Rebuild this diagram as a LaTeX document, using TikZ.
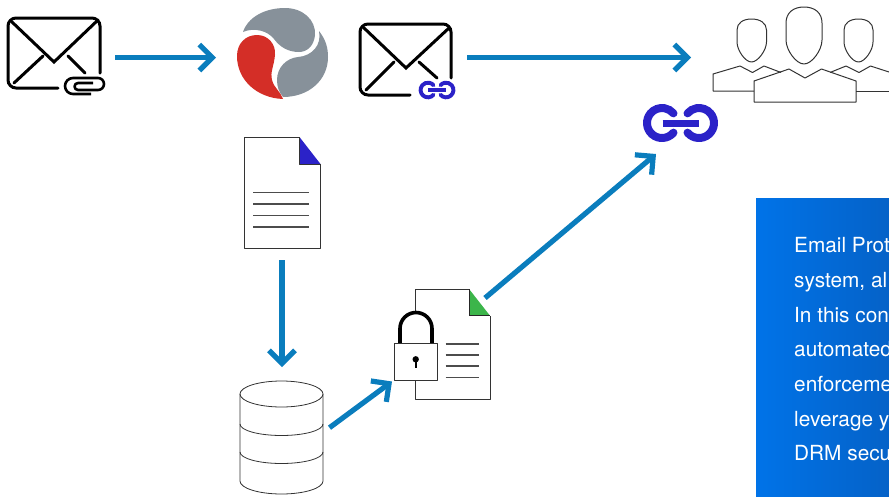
\documentclass[tikz,border=0pt]{standalone}
\usepackage{fontspec}
\setmainfont{TeX Gyre Heros}
\usetikzlibrary{arrows.meta}
\definecolor{flowblue}{HTML}{0A7DBD}
\definecolor{linkblue}{HTML}{2B22C8}
\definecolor{logogray}{HTML}{87919A}
\definecolor{logored}{HTML}{D42E27}
\definecolor{docgreen}{HTML}{3CB54A}
\definecolor{panelleft}{RGB}{0,115,232}
\definecolor{panelright}{RGB}{5,98,200}
\tikzset{
  flow/.style={draw=flowblue,line width=5.2pt,-{Straight Barb[length=13pt,width=26pt,line width=5.2pt]}},
  mailline/.style={draw=black,line width=3pt,line cap=round},
  clipline/.style={draw=black,line width=2.6pt,line join=round},
  thinline/.style={draw=black!80,line width=1pt,line join=round},
  rowline/.style={draw=black!70,line width=1.2pt},
  dbline/.style={draw=black!80,line width=0.8pt},
  boxtext/.style={text=white,font=\fontsize{20.8pt}{22pt}\selectfont,anchor=base west,inner sep=0pt},
}
\newcommand{\linkglyph}[3]{%
  \begin{scope}[shift={(#1,#2)},scale=#3]
    \draw[linkblue,line width={8pt*#3},line cap=round] (-18.5,0)++(40:15) arc[start angle=40,end angle=320,radius=15];
    \draw[linkblue,line width={8pt*#3},line cap=round] (18.5,0)++(140:15) arc[start angle=140,end angle=-140,radius=15];
    \draw[linkblue,line width={7pt*#3}] (-18,0) -- (18,0);
  \end{scope}}
\begin{document}
\begin{tikzpicture}[x=1pt,y=-1pt]
\useasboundingbox (0,0) rectangle (889,496);
\clip (0,0) rectangle (889,496);
% anchors of the connectors
\coordinate (mailAout) at (115,57.5);
\coordinate (logoIn) at (216,57.5);
\coordinate (mailBout) at (467,57.5);
\coordinate (peopleIn) at (691,57.5);
\coordinate (docOut) at (282,260);
\coordinate (dbIn) at (282,367);
\coordinate (dbOut) at (329.5,427.7);
\coordinate (lockIn) at (392,381.5);
\coordinate (lockedOut) at (485,298);
\coordinate (linkIn) at (656,154);
% mail with paperclip
\draw[mailline,rounded corners=8pt] (100,73) -- (100,18) -- (8,18) -- (8,88) -- (58,88);
\draw[mailline] (12,22) -- (54,62) -- (98,20);
\draw[mailline] (14,83) -- (43,56);
\draw[mailline] (68,56) -- (85,73);
\draw[clipline] (91,94) -- (73,94) arc[start angle=90,end angle=270,radius=8] -- (98,78) arc[start angle=-90,end angle=90,radius=6] -- (78,90) arc[start angle=90,end angle=270,radius=3.5] -- (93,83);
% logo
\fill[logogray] (243,32) .. controls (248,17) and (265,8) .. (285,8) .. controls (303,8) and (316,20) .. (315,35) .. controls (314,46) and (307,52) .. (299,52) .. controls (288,52) and (280,47) .. (274,39) .. controls (268,31) and (254,27) .. (243,32) -- cycle;
\fill[logored] (283,99) .. controls (257,98) and (237,80) .. (237,56) .. controls (237,43) and (246,35) .. (257,35) .. controls (268,35) and (276,44) .. (275,55) .. controls (274,66) and (270,72) .. (272,80) .. controls (274,88) and (281,92) .. (283,99) -- cycle;
\fill[logogray] (319,31) .. controls (326,40) and (328,48) .. (328,57) .. controls (328,80) and (309,97) .. (283,97) .. controls (279,92) and (277,87) .. (277,80) .. controls (277,67) and (287,58) .. (298,57) .. controls (312,56) and (322,45) .. (319,31) -- cycle;
% mail with link
\draw[mailline,rounded corners=8pt] (451,78) -- (451,24) -- (360,24) -- (360,95) -- (410,95);
\draw[mailline] (364,28) -- (406,68) -- (449,28);
\draw[mailline] (366,90) -- (394,62);
\draw[mailline] (419,62) -- (437,78);
\linkglyph{437}{90}{0.49}
\linkglyph{680.5}{123}{1}
% people
\draw[thinline] (751.5,19) .. controls (743,19) and (737,23) .. (737,30) -- (737,42) .. controls (737,50) and (745,62) .. (751.5,62) .. controls (758,62) and (766.5,50) .. (766.5,42) -- (766.5,30) .. controls (766.5,23) and (760,19) .. (751.5,19) -- cycle;
\draw[thinline] (858.5,19) .. controls (850,19) and (844,23) .. (844,30) -- (844,42) .. controls (844,50) and (852,62) .. (858.5,62) .. controls (865,62) and (873,50) .. (873,42) -- (873,30) .. controls (873,23) and (867,19) .. (858.5,19) -- cycle;
\draw[thinline] (804,7) .. controls (793,7) and (786,13) .. (786,23) -- (786,40) .. controls (786,50) and (796,64) .. (804,64) .. controls (812,64) and (822,50) .. (822,40) -- (822,23) .. controls (822,13) and (815,7) .. (804,7) -- cycle;
\draw[thinline] (754,91) -- (713,91) -- (713,74) -- (740,66) -- (752.5,72.5) -- (764,66) -- (781,72.5);
\draw[thinline] (856,91) -- (889,91);
\draw[thinline] (830,72.5) -- (846,66) -- (859,72.5) -- (870.5,66) -- (889,72);
\draw[thinline] (754,102) -- (754,81) -- (789,69) -- (805,78) -- (821.5,69) -- (856,81) -- (856,102) -- cycle;
% document
\draw[thinline] (299.5,137) -- (244.5,137) -- (244.5,248) -- (320.5,248) -- (320.5,164);
\fill[linkblue] (299.5,137) -- (320.5,164) -- (299.5,164) -- cycle;
\draw[thinline] (299.5,137) -- (299.5,164) -- (320.5,164);
\draw[rowline] (253,192.7) -- (309,192.7);
\draw[rowline] (253,204) -- (309,204);
\draw[rowline] (253,215.3) -- (309,215.3);
\draw[rowline] (253,227) -- (309,227);
% database
\draw[dbline] (240,394) arc[start angle=180,end angle=540,x radius=41.5,y radius=13];
\draw[dbline] (240,394) -- (240,481) arc[start angle=180,end angle=360,x radius=41.5,y radius=-13] -- (323,394);
\draw[dbline] (240,424) arc[start angle=180,end angle=360,x radius=41.5,y radius=-11.5];
\draw[dbline] (240,452) arc[start angle=180,end angle=360,x radius=41.5,y radius=-11.5];
% locked document
\draw[thinline] (415.7,312) -- (415.7,289.3) -- (469.3,289.3);
\draw[thinline] (415.7,381) -- (415.7,399) -- (490,399) -- (490,315.7);
\fill[docgreen] (469.3,289.3) -- (490,315.7) -- (469.3,315.7) -- cycle;
\draw[draw=black!85,line width=0.8pt] (469.3,289.3) -- (469.3,315.7) -- (490,315.7);
\draw[rowline] (445.7,344) -- (478.7,344);
\draw[rowline] (445.7,355) -- (478.7,355);
\draw[rowline] (445.7,366) -- (478.7,366);
\draw[rowline] (445.7,377.7) -- (478.7,377.7);
\draw[black,line width=3.6pt] (400,343.5) -- (400,328.5) arc[start angle=180,end angle=360,radius=16] -- (432,343.5);
\draw[thinline,fill=white] (394,343.3) rectangle (437.7,380.7);
\fill[black] (415.7,359.3) circle[radius=3.2];
\draw[black,line width=2pt] (415.7,359.3) -- (415.7,368);
% connectors
\draw[flow] (mailAout) -- (logoIn);
\draw[flow] (mailBout) -- (peopleIn);
\draw[flow] (docOut) -- (dbIn);
\draw[flow] (dbOut) -- (lockIn);
\draw[flow] (lockedOut) -- (linkIn);
% text panel
\fill[left color=panelleft,right color=panelright] (756,198) rectangle (889,496);
\node[boxtext] (t1) at (794,252) {Email Prot};
\node[boxtext] (t2) at (794,287) {system, al};
\node[boxtext] (t3) at (794,322) {In this con};
\node[boxtext] (t4) at (794,356) {automated};
\node[boxtext] (t5) at (794,391) {enforceme};
\node[boxtext] (t6) at (794,426) {leverage y};
\node[boxtext] (t7) at (794,460.5) {DRM secu};
\end{tikzpicture}
\end{document}
